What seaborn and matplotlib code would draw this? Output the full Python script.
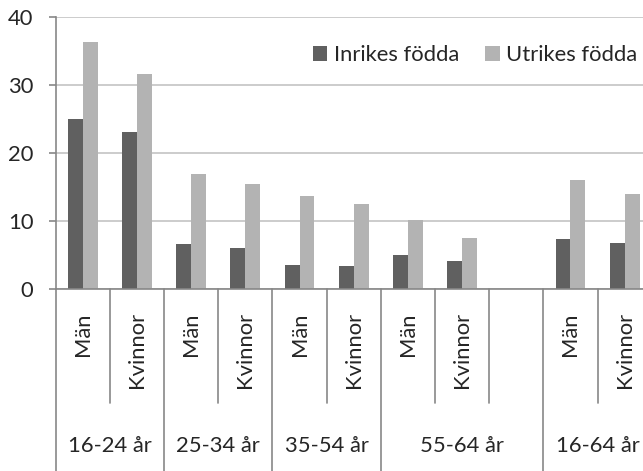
import matplotlib
matplotlib.use('Agg')
import matplotlib.pyplot as plt
import seaborn as sns
import pandas as pd

# category slots (55-64 has an empty third slot, as in the original)
slot_keys = ['16-24 Män', '16-24 Kvinnor', '25-34 Män', '25-34 Kvinnor',
             '35-54 Män', '35-54 Kvinnor', '55-64 Män', '55-64 Kvinnor',
             '55-64 tom', '16-64 Män', '16-64 Kvinnor']
slot_labels = ['Män', 'Kvinnor', 'Män', 'Kvinnor', 'Män', 'Kvinnor',
               'Män', 'Kvinnor', '', 'Män', 'Kvinnor']
group_labels = ['16-24 år', '25-34 år', '35-54 år', '55-64 år', '16-64 år']
group_sizes = [2, 2, 2, 3, 2]

bar_slots = [k for k in slot_keys if not k.endswith('tom')]
inrikes = [25.0, 23.1, 6.7, 6.0, 3.6, 3.4, 5.1, 4.1, 7.4, 6.8]
utrikes = [36.4, 31.6, 16.9, 15.4, 13.7, 12.6, 10.2, 7.6, 16.0, 14.0]
series = ['Inrikes födda', 'Utrikes födda']

df = pd.DataFrame({
    'slot': bar_slots * 2,
    'serie': [series[0]] * len(bar_slots) + [series[1]] * len(bar_slots),
    'value': inrikes + utrikes,
})

sns.set_style('white')
plt.rcParams['font.family'] = ['Lato', 'DejaVu Sans']
axis_grey = '#878787'
fs = 15.8

fig = plt.figure(figsize=(6.43, 4.71), dpi=100)
ax = fig.add_axes([55.7 / 643, 1 - 289.3 / 471, 596 / 643, 272.3 / 471])

sns.barplot(data=df, x='slot', y='value', hue='serie', order=slot_keys,
            hue_order=series, palette=['#606060', '#b3b3b3'], saturation=1,
            width=0.55, linewidth=0, ax=ax)

ax.set_xlim(-0.5, len(slot_keys) - 0.5)
ax.set_ylim(0, 40)
ax.set_yticks([0, 10, 20, 30, 40])
ax.yaxis.grid(True, color='#c4c4c4', lw=1.2)
ax.set_axisbelow(True)
ax.tick_params(axis='y', length=5, width=1.2, color=axis_grey, pad=11,
               labelsize=fs, left=True)
ax.set_xlabel('')
ax.set_ylabel('')
for s in ['top', 'right']:
    ax.spines[s].set_visible(False)
for s in ['left', 'bottom']:
    ax.spines[s].set_color(axis_grey)
    ax.spines[s].set_linewidth(1.2)

# slot labels
ax.set_xticks(range(len(slot_keys)))
ax.set_xticklabels(slot_labels, rotation=90, fontsize=fs)
ax.tick_params(axis='x', length=0, pad=16.5)

# separators and group labels below the axis
trans = ax.get_xaxis_transform()
start = 0
for label, size in zip(group_labels, group_sizes):
    left = start - 0.5
    ax.plot([left, left], [0, -0.7], transform=trans, color=axis_grey,
            lw=1.2, clip_on=False)
    for i in range(1, size):
        ax.plot([left + i, left + i], [0, -0.419], transform=trans,
                color=axis_grey, lw=1.2, clip_on=False)
    ax.text(start + (size - 1) / 2, -0.574, label, transform=trans,
            ha='center', va='center', fontsize=fs)
    start += size

handles, labels = ax.get_legend_handles_labels()
ax.legend_.remove()
fig.legend(handles, labels, loc='center left',
           bbox_to_anchor=(313 / 643, 1 - 55 / 471), ncol=2, frameon=False,
           fontsize=fs, handlelength=0.65, handleheight=0.65,
           handletextpad=0.3, columnspacing=1.2, borderpad=0,
           borderaxespad=0)

fig.savefig('out.png', dpi=100)
